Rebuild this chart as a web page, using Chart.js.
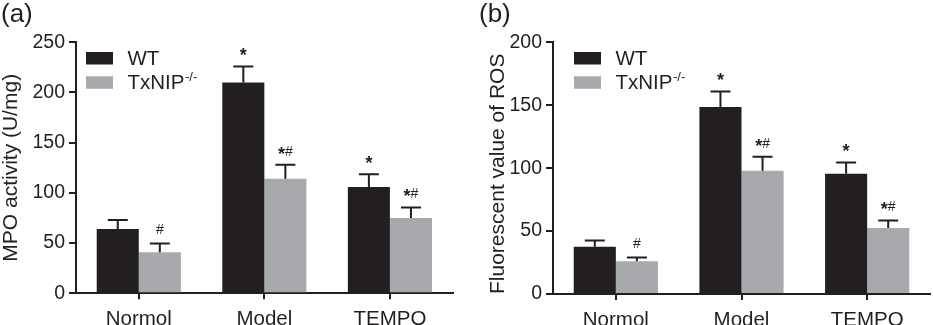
<!DOCTYPE html>
<html>
<head>
<meta charset="utf-8">
<script src="https://cdn.jsdelivr.net/npm/chart.js@4.4.1/dist/chart.umd.min.js"></script>
<style>
  html, body { margin: 0; padding: 0; background: #fff; }
  #wrap { position: relative; width: 933px; height: 325px; overflow: hidden; }
  canvas { position: absolute; top: 0; }
  #chartA { left: 0; }
  #chartB { left: 466px; }
</style>
</head>
<body>
<div id="wrap">
  <canvas id="chartA" width="466" height="325"></canvas>
  <canvas id="chartB" width="467" height="325"></canvas>
</div>
<script>
const categories = ['Normol', 'Model', 'TEMPO'];

// panel (a) MPO activity (U/mg)
const mpoWT = [64, 210, 106];
const mpoWTErr = [9, 16, 12.5];
const mpoKO = [41, 114, 75];
const mpoKOErr = [8.5, 14, 10.5];

// panel (b) Fluorescent value of ROS
const rosWT = [37.5, 148.5, 95.5];
const rosWTErr = [5, 12.5, 9];
const rosKO = [26, 98, 52.5];
const rosKOErr = [3, 11, 6];

// significance marks
const marksWT = ['', '*', '*'];
const marksKO = ['#', '*#', '*#'];

const INK = '#231f20';
const GREY = '#a7a9ac';
const FONT = "'Liberation Sans', Arial, sans-serif";

const extrasPlugin = {
  id: 'extras',
  afterDatasetsDraw(chart, args, opts) {
    const ctx = chart.ctx;
    const yScale = chart.scales.y;
    ctx.save();
    // error bars + marks
    chart.data.datasets.forEach((ds, i) => {
      const meta = chart.getDatasetMeta(i);
      meta.data.forEach((bar, j) => {
        const yErr = yScale.getPixelForValue(ds.data[j] + ds.errors[j]);
        ctx.strokeStyle = INK;
        ctx.lineWidth = 2;
        ctx.beginPath();
        ctx.moveTo(bar.x, bar.y);
        ctx.lineTo(bar.x, yErr);
        ctx.moveTo(bar.x - 10, yErr);
        ctx.lineTo(bar.x + 10, yErr);
        ctx.stroke();
        const m = ds.marks[j];
        if (!m) return;
        const y = yErr - 13;
        ctx.fillStyle = INK;
        ctx.textBaseline = 'middle';
        const parts = m.split('').map(c => ({ c, font: c === '*' ? 'bold 18px ' + FONT : '14px ' + FONT }));
        let w = 0;
        parts.forEach(p => { ctx.font = p.font; p.w = ctx.measureText(p.c).width; w += p.w; });
        let x = bar.x - w / 2;
        parts.forEach(p => {
          ctx.font = p.font;
          ctx.textAlign = 'left';
          ctx.fillText(p.c, x, p.c === '*' ? y + 3 : y);
          x += p.w;
        });
      });
    });
    // legend
    chart.data.datasets.forEach((ds, i) => {
      const bx = opts.legendX, by = 52 + i * 24.3;
      ctx.fillStyle = ds.backgroundColor;
      ctx.fillRect(bx, by, 27, 12.5);
      ctx.fillStyle = INK;
      ctx.font = '20.5px ' + FONT;
      ctx.textAlign = 'left';
      ctx.textBaseline = 'middle';
      const tx = bx + 41.5;
      ctx.fillText(ds.label, tx, by + 7);
      if (ds.sup) {
        const w = ctx.measureText(ds.label).width;
        ctx.font = '13px ' + FONT;
        ctx.fillText(ds.sup, tx + w + 0.5, by + 1);
      }
    });
    // panel label
    ctx.font = '26px ' + FONT;
    ctx.fillStyle = INK;
    ctx.textAlign = 'left';
    ctx.textBaseline = 'middle';
    ctx.fillText(opts.panel, opts.panelX, 15);
    ctx.restore();
  }
};

function makeChart(id, cfg) {
  return new Chart(document.getElementById(id), {
    type: 'bar',
    data: {
      labels: categories,
      datasets: [
        { label: 'WT', data: cfg.wt, errors: cfg.wtErr, marks: marksWT, backgroundColor: INK },
        { label: 'TxNIP', sup: '-/-', data: cfg.ko, errors: cfg.koErr, marks: marksKO, backgroundColor: GREY }
      ]
    },
    options: {
      responsive: false,
      animation: false,
      devicePixelRatio: 1,
      layout: { padding: { left: 0, right: cfg.padRight, top: 42.3, bottom: 0 } },
      datasets: { bar: { categoryPercentage: 0.67, barPercentage: 1.0 } },
      plugins: {
        legend: { display: false },
        tooltip: { enabled: false },
        extras: { legendX: cfg.legendX, panel: cfg.panel, panelX: cfg.panelX }
      },
      scales: {
        x: {
          border: { color: INK, width: 2 },
          grid: { display: true, drawOnChartArea: false, offset: false, color: INK, lineWidth: 2, tickLength: 6 },
          ticks: { color: INK, font: { family: FONT, size: 20.5 }, padding: 8, maxRotation: 0 },
          afterFit: s => { s.height = 325 - cfg.bottom; }
        },
        y: {
          min: 0, max: cfg.max,
          border: { color: INK, width: 2 },
          grid: { display: true, drawOnChartArea: false, color: INK, lineWidth: 2, tickLength: 7 },
          ticks: { color: INK, font: { family: FONT, size: 19.5 }, padding: 4, stepSize: 50 },
          title: { display: true, text: cfg.title, color: INK, align: cfg.titleAlign, font: { family: FONT, size: 21, lineHeight: 1 }, padding: { top: cfg.titlePad, bottom: 0 } },
          afterFit: s => { s.width = cfg.left; }
        }
      }
    },
    plugins: [extrasPlugin]
  });
}

makeChart('chartA', {
  wt: mpoWT, wtErr: mpoWTErr, ko: mpoKO, koErr: mpoKOErr,
  max: 250, title: 'MPO activity (U/mg)', titleAlign: 'center', titlePad: 0.5,
  left: 76, padRight: 13.3, bottom: 293.3,
  legendX: 86, panel: '(a)', panelX: 1
});

makeChart('chartB', {
  wt: rosWT, wtErr: rosWTErr, ko: rosKO, koErr: rosKOErr,
  max: 200, title: 'Fluorescent value of ROS', titleAlign: 'start', titlePad: 22,
  left: 87, padRight: 3, bottom: 294,
  legendX: 108, panel: '(b)', panelX: 13
});
</script>
</body>
</html>
